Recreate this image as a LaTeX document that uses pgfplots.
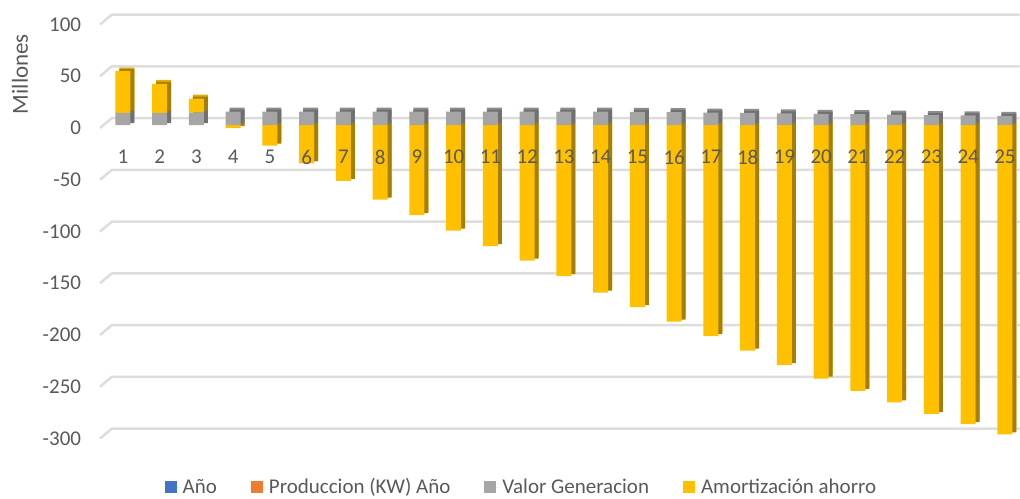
\documentclass[border=0pt]{standalone}
\usepackage{pgfplots}
\usepackage{pgfplotstable}
\pgfplotsset{compat=1.18}
\usepackage{fontspec}
\setmainfont{Carlito}
\definecolor{cblue}{HTML}{4472C4}
\definecolor{corange}{HTML}{ED7D31}
\definecolor{cgray}{HTML}{A5A5A5}
\definecolor{cgrayt}{HTML}{8C8C8C}
\definecolor{cgrays}{HTML}{707070}
\definecolor{cyel}{HTML}{FFC000}
\definecolor{cyelt}{HTML}{E6AD00}
\definecolor{cyels}{HTML}{A67E00}
\definecolor{ctext}{HTML}{595959}
\definecolor{cgrid}{HTML}{DDDDDD}

\pgfplotstableread{
x g a
1 11.6 40.5
2 11.8 28
3 12 13.5
4 13 -3
5 13 -20
6 13 -37
7 13 -54
8 13 -72
9 13 -87
10 13 -102
11 13 -117
12 13 -131
13 13 -146
14 13 -162
15 12.8 -176
16 12.4 -190
17 12 -204
18 11.6 -218
19 11.2 -232
20 10.8 -245
21 10.4 -257
22 10 -268
23 9.6 -279
24 9.2 -289
25 8.8 -299
}\datatable

\pgfplotsset{
  base/.style={scale only axis, width=915pt, height=414pt,
    xmin=0.5, xmax=25.4, ymin=-300, ymax=100,
    ybar stacked, stack negative=separate, bar width=15pt,
    at={(0,0)}, anchor=south west,
    axis line style={draw=none}, major tick length=0pt,
    /pgf/number format/assume math mode=true},
  sq/.style={legend image code/.code={\fill[##1, draw=none] (0pt,-6pt) rectangle (12pt,6pt); \path[draw=none] (0pt,0pt) -- (16pt,0pt);}}
}

\begin{document}
\begin{tikzpicture}
\useasboundingbox (-104.6pt,-62.5pt) rectangle (915.4pt,435.5pt);
% grid, y ticks, top faces
\begin{axis}[base,
  ytick={-300,-250,...,100}, xtick=\empty,
  clip=false,
  yticklabel style={font=\fontsize{21}{24}\selectfont, color=ctext, xshift=-20pt, yshift=-3pt},
  ylabel={Millones},
  ylabel style={at={(axis description cs:-0.0925,0.873)}, anchor=center, font=\fontsize{23}{26}\selectfont, color=ctext},
]
\pgfplotsinvokeforeach{-300,-250,-200,-150,-100,-50,0,50,100}{
  \draw[cgrid, line width=2.5pt, line join=round] ([xshift=-4.6pt,yshift=-3pt]axis cs:0.5,#1) -- ([xshift=7.4pt,yshift=7pt]axis cs:0.5,#1) -- ([yshift=7pt]axis cs:25.4,#1);
}
\addplot[fill=cgrayt, draw=none, xshift=4pt, yshift=4pt] table[x=x,y=g]{\datatable};
\addplot[fill=cyelt, draw=none, xshift=4pt, yshift=4pt] table[x=x,y=a]{\datatable};
\end{axis}
% side faces
\begin{axis}[base, hide axis]
\addplot[fill=cgrays, draw=none, xshift=4pt, yshift=2pt] table[x=x,y=g]{\datatable};
\addplot[fill=cyels, draw=none, xshift=4pt, yshift=2pt] table[x=x,y=a]{\datatable};
\end{axis}
% front faces, x labels, legend
\begin{axis}[base, axis on top,
  ytick=\empty, xtick={1,...,25},
  xticklabel style={font=\fontsize{21}{24}\selectfont, color=ctext, anchor=center, yshift=278.5pt},
  legend columns=4,
  legend style={at={(axis description cs:0.4556,0)}, anchor=center, yshift=-51.5pt, draw=none, fill=none,
    font=\fontsize{21}{24}\selectfont, text=ctext,
    /tikz/every even column/.append style={column sep=32pt}},
]
\addlegendimage{sq, fill=cblue}
\addlegendentry{Año}
\addlegendimage{sq, fill=corange}
\addlegendentry{Produccion (KW) Año}
\addplot[fill=cgray, draw=none, sq] table[x=x,y=g]{\datatable};
\addlegendentry{Valor Generacion}
\addplot[fill=cyel, draw=none, sq] table[x=x,y=a]{\datatable};
\addlegendentry{Amortización ahorro}
\end{axis}
\end{tikzpicture}
\end{document}
